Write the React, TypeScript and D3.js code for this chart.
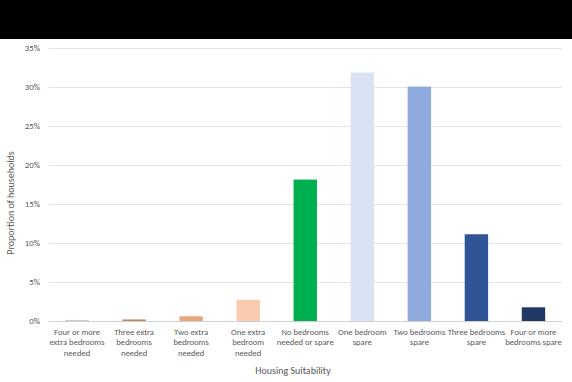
import React from "react";
import * as d3 from "d3";

const categories: string[][] = [
  ["Four or more", "extra bedrooms", "needed"],
  ["Three extra", "bedrooms", "needed"],
  ["Two extra", "bedrooms", "needed"],
  ["One extra", "bedroom", "needed"],
  ["No bedrooms", "needed or spare"],
  ["One bedroom", "spare"],
  ["Two bedrooms", "spare"],
  ["Three bedrooms", "spare"],
  ["Four or more", "bedrooms spare"],
];
const values = [0.1, 0.2, 0.6, 2.7, 18.1, 31.8, 30.0, 11.1, 1.75];
const colors = ["#C9B9AC", "#C5835B", "#EBA57D", "#F8CBAD", "#00B050", "#DAE3F3", "#8FAADC", "#2F5597", "#1F3864"];
const yTicks = [0, 5, 10, 15, 20, 25, 30, 35];
const yTitle = "Proportion of households";
const xTitle = "Housing Suitability";

const W = 572, H = 382;
const left = 48.5, right = 562, top = 47.5, bottom = 321;
const font = "Carlito, Calibri, Lato, 'Open Sans', sans-serif";

export default function App() {
  const keys = categories.map((_, i) => String(i));
  const x = d3.scaleBand().domain(keys).range([left, right]).paddingInner(0.59).paddingOuter(0.295);
  const y = d3.scaleLinear().domain([0, 35]).range([bottom, top]);
  return (
    <div style={{ position: "fixed", left: 0, top: 0 }}>
      <svg width={W} height={H} style={{ display: "block", fontFamily: font }}>
        <rect x={0} y={0} width={W} height={H} fill="#fff" />
        <rect x={0} y={0} width={W} height={39} fill="#000" />
        {yTicks.map((t) => (
          <g key={t}>
            <line x1={left} x2={right} y1={Math.round(y(t)) + 0.5} y2={Math.round(y(t)) + 0.5} stroke={t === 0 ? "#D0D0D0" : "#E4E4E4"} strokeWidth={1} />
            <text x={40} y={y(t)} dy="0.35em" textAnchor="end" fontSize={8.8} fill="#595959">{t}%</text>
          </g>
        ))}
        {values.map((v, i) => (
          <rect key={i} x={x(String(i))} width={x.bandwidth()} y={y(v)} height={bottom - y(v)} fill={colors[i]} />
        ))}
        {categories.map((lines, i) => (
          <text key={i} x={(x(String(i)) as number) + x.bandwidth() / 2} y={335} textAnchor="middle" fontSize={8.6} fill="#595959">
            {lines.map((l, j) => (
              <tspan key={j} x={(x(String(i)) as number) + x.bandwidth() / 2} dy={j === 0 ? 0 : 10.3}>{l}</tspan>
            ))}
          </text>
        ))}
        <text x={293} y={374} textAnchor="middle" fontSize={10} fill="#595959">{xTitle}</text>
        <text transform={`translate(14,203) rotate(-90)`} textAnchor="middle" fontSize={10} fill="#595959">{yTitle}</text>
      </svg>
    </div>
  );
}
